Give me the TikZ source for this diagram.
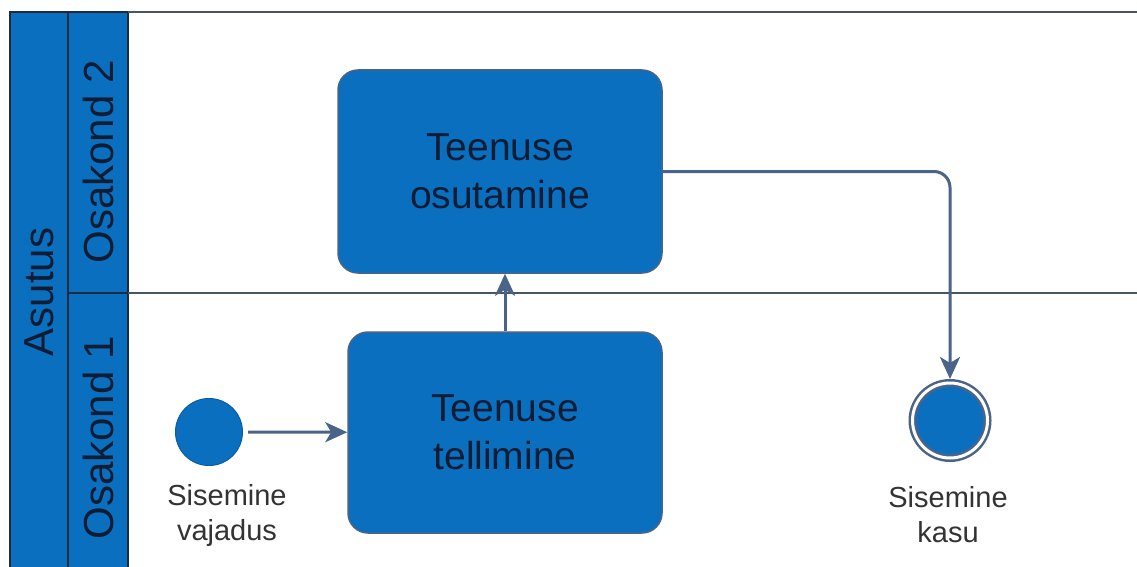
\documentclass[tikz,border=0pt]{standalone}
\usepackage{fontspec}
\setmainfont{Liberation Sans}
\usepackage{tikz}
\usetikzlibrary{arrows.meta,positioning}
\definecolor{bpblue}{HTML}{0B6FBF}
\definecolor{bpline}{HTML}{4A6388}
\definecolor{bpdark}{HTML}{1B2B40}
\definecolor{bptext}{HTML}{0E1D33}

\begin{document}
\begin{tikzpicture}[x=1pt,y=-1pt,
  hdr/.style={draw=bpdark,fill=bpblue,line width=1.2pt},
  lane/.style={draw=bpdark!80,line width=1.2pt},
  big/.style={font=\fontsize{39}{48}\selectfont,text=bptext},
  hdrtxt/.style={font=\fontsize{42}{50}\selectfont,text=bptext,rotate=90},
  task/.style={draw=bpline,fill=bpblue,line width=1.5pt,rounded corners=20pt,big,align=center,inner sep=0pt},
  ev/.style={circle,fill=bpblue,inner sep=0pt},
  lbl/.style={font=\fontsize{29}{35}\selectfont,text=black!80,align=center},
  ar/.style={draw=bpline,line width=3pt,-{Stealth[length=22pt,width=20pt,inset=6pt]}}]
\clip (0,0) rectangle (1137,567);
\fill[white] (0,0) rectangle (1137,567);
% pool and lanes
\draw[hdr] (10,12) rectangle (68,600);
\draw[hdr] (68,12) rectangle (128,293);
\draw[hdr] (68,293) rectangle (128,600);
\draw[lane] (128,12) -- (1137,12);
\draw[lane] (128,293) -- (1137,293);
\node[hdrtxt] (asutus) at (39,292) {Asutus};
\node[hdrtxt] (osak2) at (98,162) {Osakond 2};
\node[hdrtxt] (osak1) at (98,438) {Osakond 1};
% tasks and events
\node[task,minimum width=324pt,minimum height=203pt] (osut) at (500,171.5) {Teenuse\\osutamine};
\node[task,minimum width=314pt,minimum height=201pt] (tell) at (505,432.5) {Teenuse\\tellimine};
\node[ev,draw=bpblue!85!black,line width=1pt,minimum size=67pt] (algus) at (209,432) {};
\node[ev,draw=bpline,line width=2.5pt,double=white,double distance=3pt,minimum size=75pt,outer sep=4pt] (lopp) at (950,420.5) {};
\node[lbl] (algusl) at (227,515) {Sisemine\\vajadus};
\node[lbl] (loppl) at (948,515) {Sisemine\\kasu};
% flows
\draw[ar,shorten <=5pt] (algus) -- (tell);
\draw[ar] (tell) -- (tell |- osut.south);
\draw[ar,rounded corners=16pt] (osut.east) -| (lopp);
\end{tikzpicture}
\end{document}
